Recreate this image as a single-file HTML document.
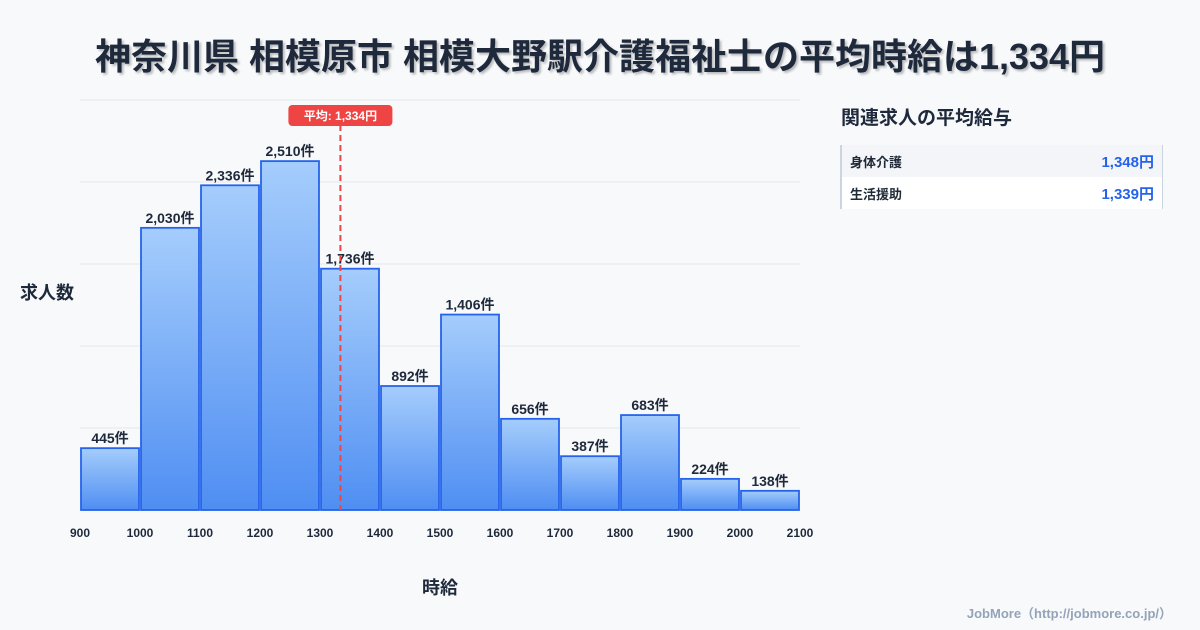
<!DOCTYPE html>
<html><head><meta charset="utf-8"><style>
body{margin:0;width:1200px;height:630px;background:#f8f9fb;font-family:"Liberation Sans","Noto Sans CJK JP",sans-serif;overflow:hidden;position:relative;color:#1f2937}
.title{position:absolute;top:28px;left:0;width:1200px;text-align:center;font-size:36px;font-weight:bold;color:#1e293b;text-shadow:2px 2px 2px rgba(0,0,0,.25);white-space:nowrap}
.side-title{position:absolute;left:841px;top:103px;font-size:19px;font-weight:bold;color:#1e293b}
.tbl{position:absolute;left:840px;top:145px;width:320px;border-left:2px solid #cbd5e1;border-right:1px solid #cbd5e1}
.row{height:32px;display:flex;justify-content:space-between;align-items:center;padding:0 8px;font-size:13px;font-weight:bold}
.row .v{color:#2563eb;font-size:15px}
.credit{position:absolute;right:28px;top:603px;font-size:13px;color:#94a3b8;font-weight:bold}
</style></head><body>
<div class="title">神奈川県 相模原市 相模大野駅介護福祉士の平均時給は1,334円</div>
<div class="side-title">関連求人の平均給与</div>
<div class="tbl">
<div class="row" style="background:#f3f5f8"><span>身体介護</span><span class="v">1,348円</span></div>
<div class="row" style="background:#fff"><span>生活援助</span><span class="v">1,339円</span></div>
</div>
<div class="credit">JobMore（http://jobmore.co.jp/）</div>
<svg id="chart" width="1200" height="630" style="position:absolute;left:0;top:0">
<defs><linearGradient id="g" x1="0" y1="0" x2="0" y2="1"><stop offset="0" stop-color="#a5cdfc"/><stop offset="1" stop-color="#4f8ef2"/></linearGradient></defs>
</svg>
<script>
const binStarts=[900,1000,1100,1200,1300,1400,1500,1600,1700,1800,1900,2000];
const counts=[445,2030,2336,2510,1736,892,1406,656,387,683,224,138];
const xTicks=[900,1000,1100,1200,1300,1400,1500,1600,1700,1800,1900,2000,2100];
const avgWage=1334;
const svg=document.getElementById('chart');
const NS='http://www.w3.org/2000/svg';
const X=v=>80+(v-900)*0.6;
const Y=v=>510-v*0.139;
function mk(t,a,txt){const e=document.createElementNS(NS,t);for(const k in a)e.setAttribute(k,a[k]);if(txt!==undefined)e.textContent=txt;svg.appendChild(e);return e;}
for(let i=0;i<=5;i++){const y=510-i*82;
const l=mk('line',{x1:80,x2:800,y1:y,y2:y,stroke:'#e5e7eb','stroke-width':1});

}
binStarts.forEach((b,i)=>{
const x0=X(b)+1,x1=X(b+100)-1,y=Y(counts[i]);
const r=mk('rect',{x:x0,y:y,width:x1-x0,height:510-y,fill:'url(#g)',stroke:'#2563eb','stroke-width':1.8});


const t=mk('text',{x:(x0+x1)/2,y:y-5,'text-anchor':'middle','font-size':14,'font-weight':'bold',fill:'#1e293b'},counts[i].toLocaleString()+'件');


});
xTicks.forEach(v=>{
const t=mk('text',{x:X(v),y:537,'text-anchor':'middle','font-size':12,'font-weight':'bold',fill:'#1e293b'},v);


});
const ax=X(avgWage);
const al=mk('line',{x1:ax,x2:ax,y1:125,y2:510,stroke:'#ef4444','stroke-width':2,'stroke-dasharray':'6,4'});


const ab=mk('rect',{x:ax-52,y:105,width:104,height:21,rx:4,fill:'#ef4444'});


const at=mk('text',{x:ax,y:120,'text-anchor':'middle','font-size':12,'font-weight':'bold',fill:'#fff'},'平均: '+avgWage.toLocaleString()+'円');


const yt=mk('text',{x:20,y:299,'font-size':18,'font-weight':'bold',fill:'#1e293b'},'求人数');


const xt=mk('text',{x:440,y:594,'text-anchor':'middle','font-size':18,'font-weight':'bold',fill:'#1e293b'},'時給');


</script>
</body></html>
